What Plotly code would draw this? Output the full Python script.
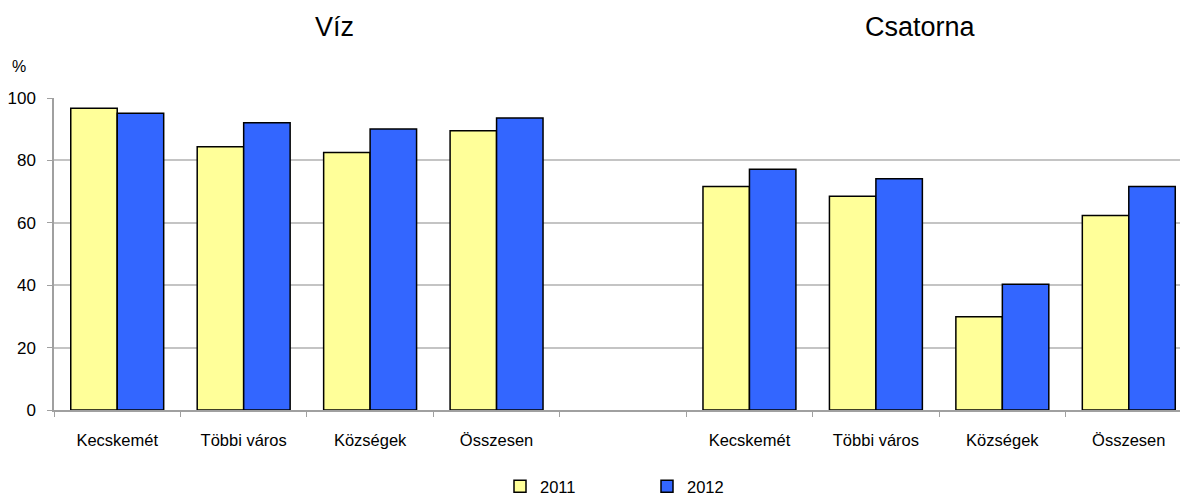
import plotly.graph_objects as go

groups = ["Víz", "Csatorna"]
places = ["Kecskemét", "Többi város", "Községek", "Összesen"]
viz_2011 = [96.7, 84.4, 82.5, 89.5]
viz_2012 = [95.1, 92.1, 90.1, 93.6]
csat_2011 = [71.6, 68.5, 29.9, 62.3]
csat_2012 = [77.2, 74.1, 40.3, 71.6]
years = ["2011", "2012"]
colors = ["#FFFF99", "#3366FF"]

ids = [f"{groups[0]}|{p}" for p in places] + ["gap"] + [f"{groups[1]}|{p}" for p in places]
labels = places + [""] + places
vals = {
    "2011": viz_2011 + [None] + csat_2011,
    "2012": viz_2012 + [None] + csat_2012,
}

fig = go.Figure()
for y, c in zip(years, colors):
    fig.add_trace(go.Bar(
        x=ids, y=vals[y], name=y,
        marker=dict(color=c, line=dict(color="#000000", width=1.5)),
    ))

L, T, B = 54, 98, 87
W, H = 1180, 497
pw = W - L
ph = H - T - B

def px(xp):
    return (xp - L) / pw

def py(yp):
    return (H - B - yp) / ph

font = "Arial, Liberation Sans, sans-serif"
fig.update_layout(
    width=W, height=H,
    margin=dict(l=L, r=0, t=T, b=B, autoexpand=False),
    paper_bgcolor="white", plot_bgcolor="white",
    barmode="group", bargap=0.265, bargroupgap=0,
    font=dict(family=font, size=16, color="#000000"),
    showlegend=True,
    legend=dict(orientation="h", x=px(500), xanchor="left", y=py(469), yanchor="top",
                entrywidth=102, entrywidthmode="pixels",
                font=dict(size=16.5), borderwidth=0, bgcolor="rgba(0,0,0,0)"),
    xaxis=dict(
        type="category", categoryorder="array", categoryarray=ids,
        tickmode="array", tickvals=ids, ticktext=labels,
        tickson="boundaries", ticks="outside", ticklen=5, tickcolor="#A0A0A0",
        showline=True, linecolor="#A0A0A0", linewidth=1.5,
        range=[-0.5, 8.405], showgrid=False,
        tickfont=dict(size=16.5), ticklabelstandoff=14,
    ),
    yaxis=dict(
        range=[0, 100], tickvals=[0, 20, 40, 60, 80, 100],
        ticks="outside", ticklen=5, tickcolor="#A0A0A0",
        showline=True, linecolor="#A0A0A0", linewidth=1.5,
        showgrid=True, gridcolor="#C4C4C4", gridwidth=1.5,
        tickfont=dict(size=17), zeroline=False, ticklabelstandoff=8,
    ),
    annotations=[
        dict(text="Víz", x=px(334), y=py(27), xref="paper", yref="paper", showarrow=False,
             font=dict(size=27), xanchor="center", yanchor="middle"),
        dict(text="Csatorna", x=px(920), y=py(27), xref="paper", yref="paper", showarrow=False,
             font=dict(size=27), xanchor="center", yanchor="middle"),
        dict(text="%", x=px(19), y=py(67), xref="paper", yref="paper", showarrow=False,
             font=dict(size=16), xanchor="center", yanchor="middle"),
    ],
)

fig.write_html("out.html", config={"displayModeBar": False},
               post_script="document.body.style.margin='0px';")
